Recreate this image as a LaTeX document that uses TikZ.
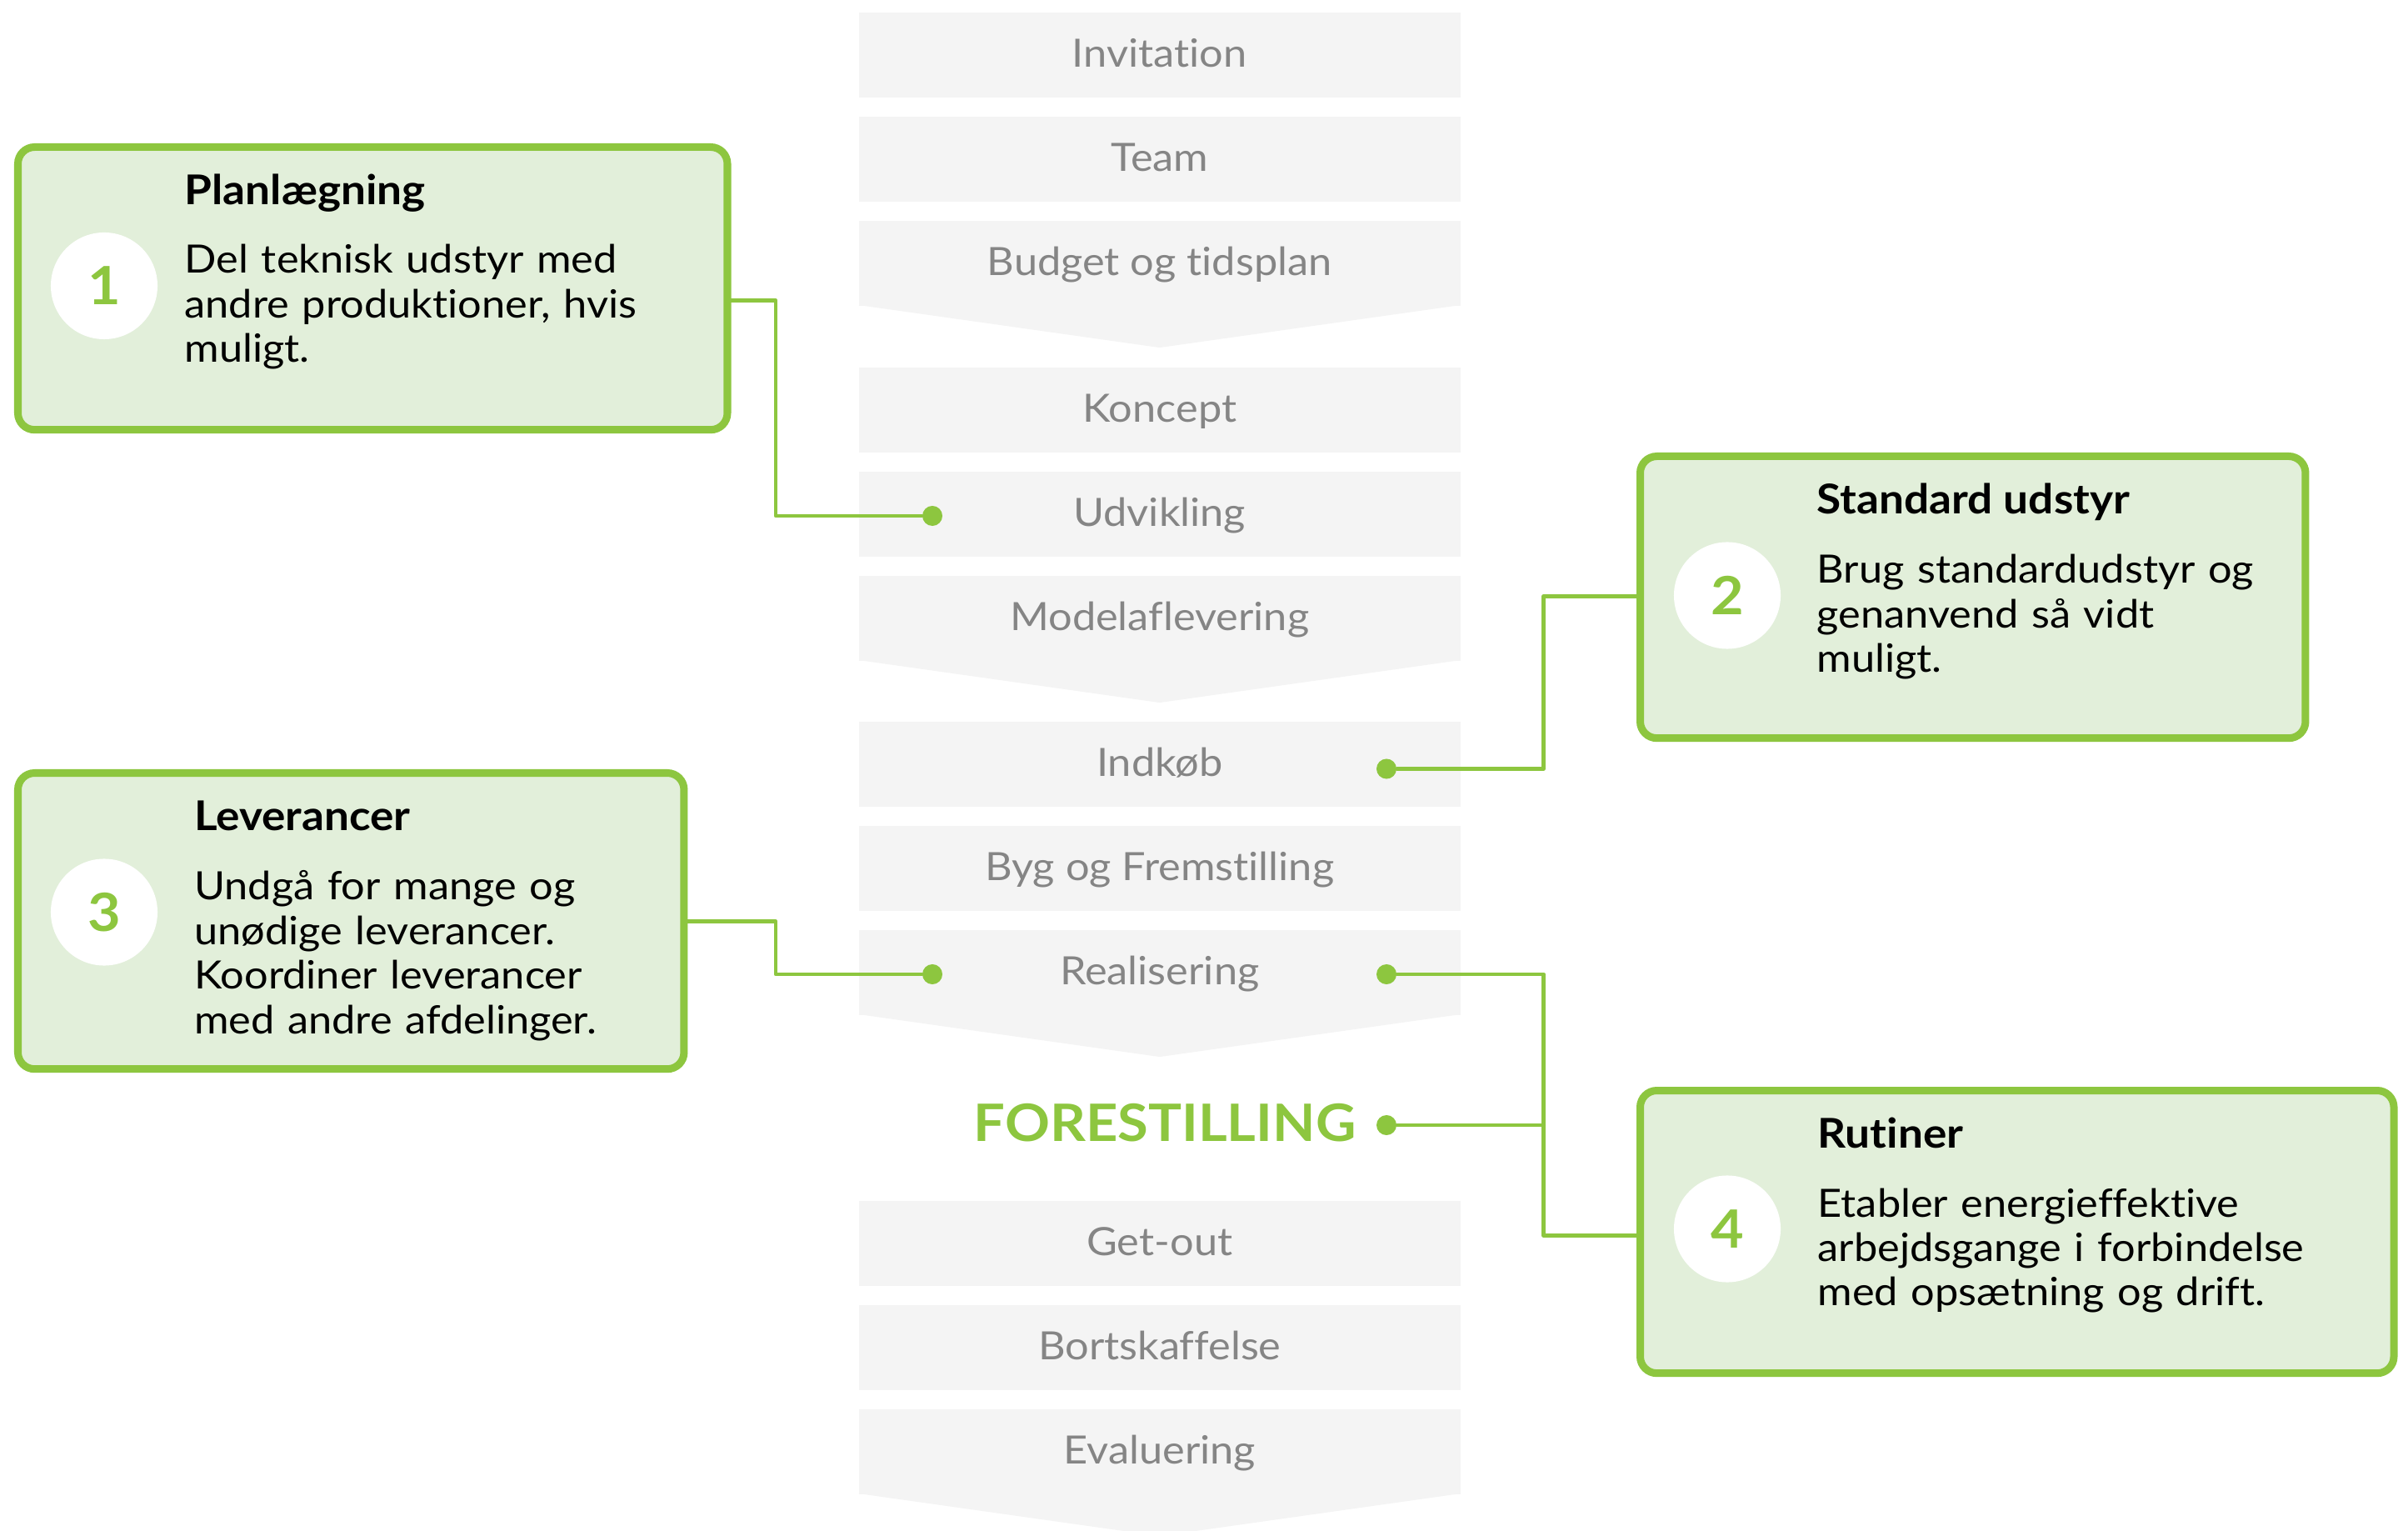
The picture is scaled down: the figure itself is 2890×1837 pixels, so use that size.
\documentclass[tikz,border=0pt]{standalone}
\usepackage{fontspec}
\setmainfont{Lato}[FakeStretch=1.08, Ligatures=NoCommon]
\newfontfamily\lightfont{Lato}[FakeStretch=1.08, Ligatures=NoCommon]
\usetikzlibrary{calc}
\definecolor{grn}{HTML}{8DC63F}
\definecolor{grnfill}{HTML}{E2EFDA}
\definecolor{stepgray}{HTML}{F4F4F4}
\definecolor{steptext}{HTML}{858585}
\tikzset{
  stepbox/.style={rectangle, fill=stepgray, minimum width=7.215cm, minimum height=1.02cm, inner sep=0pt, outer sep=0pt, anchor=north, text=steptext, font=\lightfont\fontsize{13.3pt}{15pt}\selectfont, text height=0.28cm, text depth=0cm},
  tipbox/.style={draw=grn, line width=0.09cm, fill=grnfill, rounded corners=0.2cm, anchor=north west, inner sep=0pt, outer sep=0pt},
  numcirc/.style={circle, fill=white, minimum size=1.28cm, inner sep=0pt, text=grn, font=\bfseries\fontsize{18pt}{20pt}\selectfont},
  tiphead/.style={anchor=base west, inner sep=0pt, font=\bfseries\fontsize{14pt}{16pt}\selectfont},
  tipbody/.style={anchor=base west, inner sep=0pt, align=left, text width=7.2cm, font=\fontsize{13.3pt}{15.2pt}\selectfont},
  link/.style={draw=grn, line width=0.046cm, line join=round, line cap=round},
  dot/.style={circle, fill=grn, minimum size=0.24cm, inner sep=0pt},
}
\begin{document}
\begin{tikzpicture}[x=0.01cm, y=-0.01cm]
\useasboundingbox (0,0) rectangle (2890,1837);
\fill[white] (0,0) rectangle (2890,1837);

% process steps
\node[stepbox] (inv)  at (1391.75,15)   {Invitation};
\node[stepbox] (team) at (1391.75,140)  {Team};
\node[stepbox] (bud)  at (1391.75,265)  {Budget og tidsplan};
\fill[stepgray] ($(bud.south west)+(0,-1)$) -- ($(bud.south east)+(0,-1)$) -- ($(bud.south)+(0,50)$) -- cycle;
\node[stepbox] (kon)  at (1391.75,441)  {Koncept};
\node[stepbox] (udv)  at (1391.75,566)  {Udvikling};
\node[stepbox] (mod)  at (1391.75,691)  {Modelaflevering};
\fill[stepgray] ($(mod.south west)+(0,-1)$) -- ($(mod.south east)+(0,-1)$) -- ($(mod.south)+(0,50)$) -- cycle;
\node[stepbox] (ind)  at (1391.75,866)  {Indkøb};
\node[stepbox] (byg)  at (1391.75,991)  {Byg og Fremstilling};
\node[stepbox] (real) at (1391.75,1116) {Realisering};
\fill[stepgray] ($(real.south west)+(0,-1)$) -- ($(real.south east)+(0,-1)$) -- ($(real.south)+(0,50)$) -- cycle;
\node[anchor=base, inner sep=0pt, text=grn, font=\bfseries\fontsize{17.6pt}{20pt}\selectfont] (fore) at (1398,1369) {FORESTILLING};
\node[stepbox] (get)  at (1391.75,1441) {Get-out};
\node[stepbox] (bort) at (1391.75,1566) {Bortskaffelse};
\node[stepbox] (eval) at (1391.75,1691) {Evaluering};
\fill[stepgray] ($(eval.south west)+(0,-1)$) -- ($(eval.south east)+(0,-1)$) -- ($(eval.south)+(0,50)$) -- cycle;

% tip boxes
\node[tipbox, minimum width=8.51cm, minimum height=3.39cm] (b1) at (21.5,176.5) {};
\node[tipbox, minimum width=7.98cm, minimum height=3.38cm] (b2) at (1968.5,547.5) {};
\node[tipbox, minimum width=7.99cm, minimum height=3.55cm] (b3) at (21.5,927.5) {};
\node[tipbox, minimum width=9.04cm, minimum height=3.39cm] (b4) at (1968.5,1308.5) {};

\node[numcirc] (n1) at (125,343) {1};
\node[numcirc] (n2) at (2073,714.5) {2};
\node[numcirc] (n3) at (125,1094.5) {3};
\node[numcirc] (n4) at (2073,1474.5) {4};

\node[tiphead] (h1) at (221,246) {Planlægning};
\node[tiphead] (h2) at (2180,617) {Standard udstyr};
\node[tiphead] (h3) at (232.5,996) {Leverancer};
\node[tiphead] (h4) at (2181,1377) {Rutiner};

\node[tipbody] (t1) at (221,328) {Del teknisk udstyr med\\andre produktioner, hvis\\muligt.};
\node[tipbody] (t2) at (2180,700) {Brug standardudstyr og\\genanvend så vidt\\muligt.};
\node[tipbody] (t3) at (232.5,1080) {Undgå for mange og\\unødige leverancer.\\Koordiner leverancer\\med andre afdelinger.};
\node[tipbody] (t4) at (2181,1460) {Etabler energieffektive\\arbejdsgange i forbindelse\\med opsætning og drift.};

% dots
\node[dot] (d1) at (1119,619) {};
\node[dot] (d2) at (1664,922.5) {};
\node[dot] (d3) at (1119,1169) {};
\node[dot] (d4) at (1664,1169) {};
\node[dot] (d5) at (1664,1350) {};

% connectors
\coordinate (e1) at ($(b1.north east)+(0,184)$);
\coordinate (k1) at (931,360.5);
\draw[link] (e1) -- (k1) |- (d1);
\coordinate (k2) at (1852.7,715.3);
\draw[link] (d2) -| (k2) -- (k2 -| b2.west);
\coordinate (e3) at ($(b3.north east)+(0,178.2)$);
\coordinate (k3) at (931,1105.7);
\draw[link] (e3) -- (k3) |- (d3);
\coordinate (k4) at (1852.7,1482.7);
\draw[link] (d4) -| (k4) -- (k4 -| b4.west);
\draw[link] (d5) -- (d5 -| k4);
\end{tikzpicture}
\end{document}
